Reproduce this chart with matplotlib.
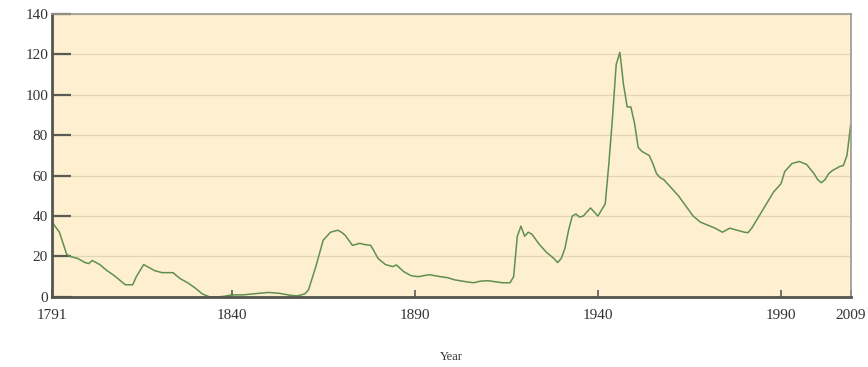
import matplotlib
matplotlib.use("Agg")
import matplotlib.pyplot as plt

# federal debt as percent of GDP
years = [1791, 1793, 1795, 1796, 1798, 1800, 1801, 1802, 1804, 1806, 1808, 1810,
         1811, 1813, 1814, 1816, 1817, 1819, 1821, 1824, 1826, 1828, 1830, 1832,
         1834, 1836, 1838, 1840, 1843, 1846, 1850, 1853, 1856, 1858, 1860, 1861,
         1863, 1865, 1867, 1869, 1870, 1871, 1873, 1875, 1876, 1878, 1880, 1882,
         1884, 1885, 1887, 1889, 1891, 1894, 1897, 1899, 1901, 1904, 1906, 1908,
         1910, 1912, 1914, 1916, 1917, 1918, 1919, 1920, 1921, 1922, 1924, 1926,
         1928, 1929, 1930, 1931, 1932, 1933, 1934, 1935, 1936, 1937, 1938, 1939,
         1940, 1941, 1942, 1943, 1944, 1945, 1946, 1947, 1948, 1949, 1950, 1951,
         1952, 1953, 1954, 1955, 1956, 1957, 1958, 1959, 1960, 1962, 1964, 1966,
         1968, 1970, 1972, 1974, 1976, 1978, 1980, 1981, 1982, 1984, 1986, 1988,
         1990, 1991, 1992, 1993, 1995, 1997, 1999, 2000, 2001, 2002, 2003, 2004,
         2005, 2006, 2007, 2008, 2009]
debt = [37, 32, 21, 20, 19, 17, 16.5, 18, 16, 13, 10.5, 7.5,
        6, 6, 10, 16, 15, 13, 12, 12, 9, 7, 4.5, 1.5,
        0, 0, 0.3, 1, 1, 1.5, 2.2, 1.8, 0.8, 0.5, 1.5, 3.5,
        15, 28, 32, 33, 32, 30.5, 25.5, 26.5, 26, 25.5, 19, 16,
        15, 15.8, 12.5, 10.5, 10, 11, 10, 9.5, 8.4, 7.5, 7, 7.8,
        8, 7.5, 7, 7, 10, 30, 35, 30, 32, 31, 26, 22,
        19, 17, 19, 24, 33, 40, 41, 39.5, 40, 42, 44, 42,
        40, 43, 46, 66, 89, 115, 121, 105, 94, 94, 86, 74,
        72, 71, 70, 66, 61, 59, 58, 56, 54, 50, 45, 40,
        37, 35.5, 34, 32, 34, 33, 32, 31.8, 34, 40, 46, 52,
        56, 62, 64, 66, 67, 65.5, 61, 58, 56.5, 58, 61, 62.5,
        63.5, 64.5, 65, 70, 85]

xticks = [1791, 1840, 1890, 1940, 1990, 2009]
yticks = [0, 20, 40, 60, 80, 100, 120, 140]

plt.rcParams['font.family'] = ['Liberation Serif', 'DejaVu Serif']

fig = plt.figure(figsize=(8.68, 3.67), dpi=100)
ax = fig.add_axes([0.060, 0.191, 0.920, 0.771])
ax.set_facecolor('#fdefcf')

ax.plot(years, debt, color='#5f9050', lw=1.1)

ax.set_xlim(1791, 2009)
ax.set_ylim(0, 140)
ax.set_xticks(xticks)
ax.set_yticks(yticks)
ax.grid(axis='y', color='#e4d6b4', lw=0.9)
ax.set_axisbelow(True)

ax.tick_params(axis='y', direction='in', length=14, width=1.6, color='#5a5a55',
               labelsize=11, labelcolor='#333333', pad=-4)
ax.tick_params(axis='x', direction='in', length=5, width=1.2, color='#5a5a55',
               labelsize=11, labelcolor='#333333', pad=8.5)
for lab in ax.get_yticklabels():
    lab.set_horizontalalignment('right')
    lab.set_x(-0.012)

ax.spines['left'].set_color('#55554f')
ax.spines['left'].set_linewidth(2)
ax.spines['bottom'].set_color('#55554f')
ax.spines['bottom'].set_linewidth(2)
ax.spines['top'].set_color('#9a9890')
ax.spines['top'].set_linewidth(1.2)
ax.spines['right'].set_color('#9a9890')
ax.spines['right'].set_linewidth(1.2)

ax.set_xlabel('Year', fontsize=9, color='#333333', labelpad=21)

fig.savefig('out.png', dpi=100)
